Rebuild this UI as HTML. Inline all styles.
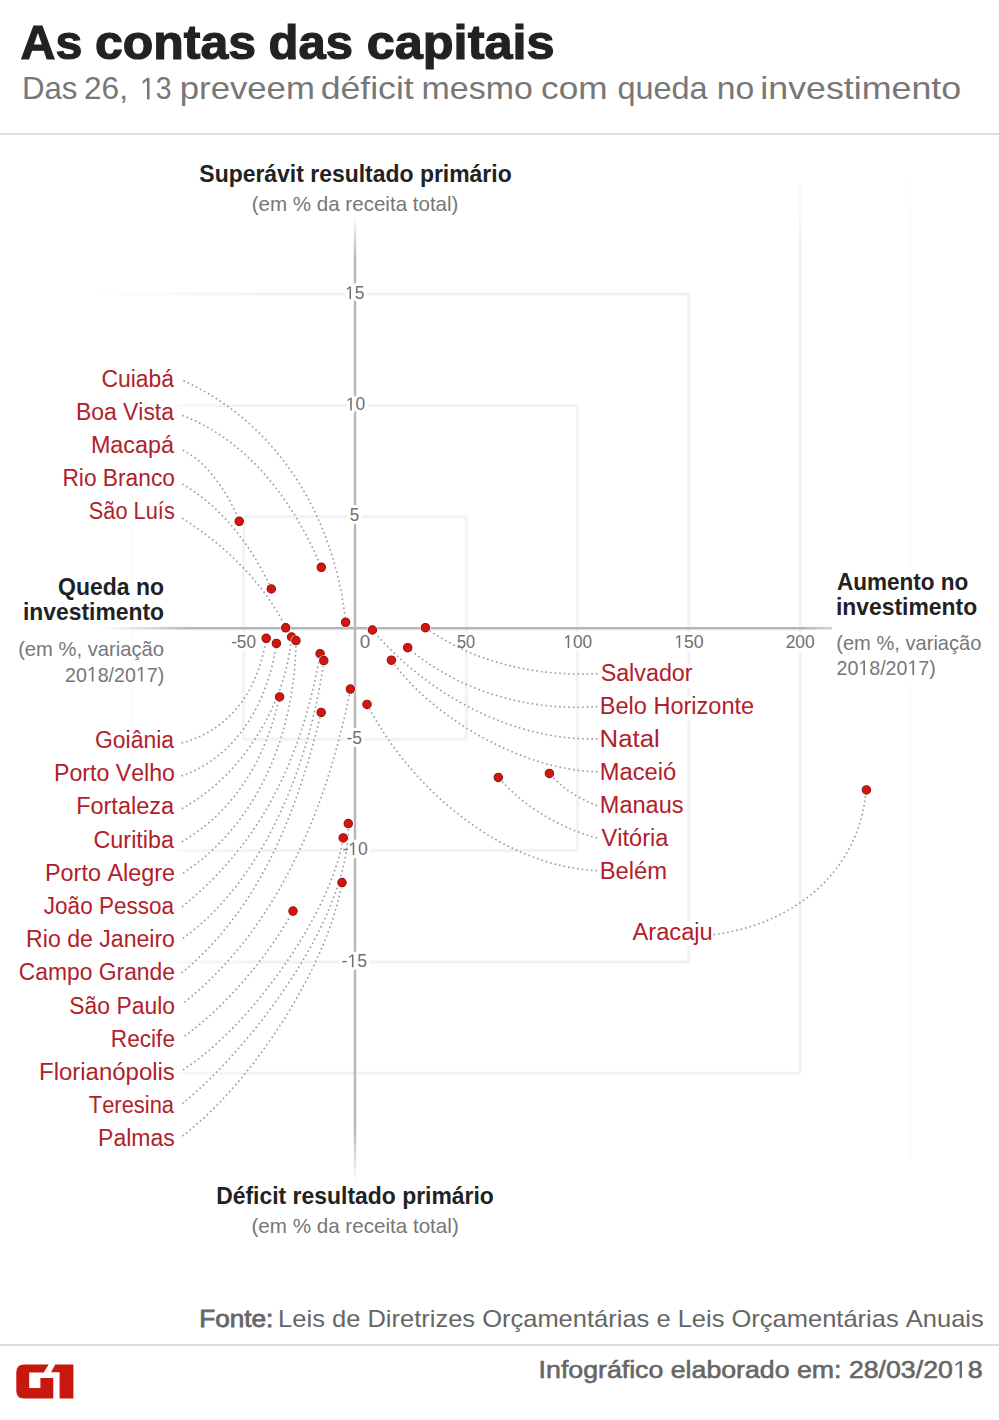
<!DOCTYPE html>
<html><head><meta charset="utf-8"><style>
html,body{margin:0;padding:0;background:#fff;}
svg{display:block;font-family:"Liberation Sans",sans-serif;font-kerning:none;}
text{font-kerning:none;}
</style></head><body>
<svg width="999" height="1420" viewBox="0 0 999 1420">
<defs>
<linearGradient id="gh" gradientUnits="userSpaceOnUse" x1="100" y1="0" x2="870" y2="0">
<stop offset="0" stop-color="#b6b6b6" stop-opacity="0"/><stop offset="0.12" stop-color="#b6b6b6" stop-opacity="1"/>
<stop offset="0.915" stop-color="#b6b6b6" stop-opacity="1"/><stop offset="1" stop-color="#b6b6b6" stop-opacity="0"/></linearGradient>
<linearGradient id="gv" gradientUnits="userSpaceOnUse" x1="0" y1="215" x2="0" y2="1182">
<stop offset="0" stop-color="#b6b6b6" stop-opacity="0"/><stop offset="0.045" stop-color="#b6b6b6" stop-opacity="1"/>
<stop offset="0.945" stop-color="#b6b6b6" stop-opacity="1"/><stop offset="1" stop-color="#b6b6b6" stop-opacity="0"/></linearGradient>
<linearGradient id="gm" gradientUnits="userSpaceOnUse" x1="90" y1="0" x2="260" y2="0">
<stop offset="0" stop-color="#000"/><stop offset="1" stop-color="#fff"/></linearGradient>
<mask id="mk" maskUnits="userSpaceOnUse" x="0" y="0" width="999" height="1420"><rect x="0" y="0" width="999" height="1420" fill="url(#gm)"/></mask>
<linearGradient id="gm2" gradientUnits="userSpaceOnUse" x1="0" y1="160" x2="0" y2="1200">
<stop offset="0" stop-color="#000"/><stop offset="0.085" stop-color="#fff"/><stop offset="0.94" stop-color="#fff"/><stop offset="1" stop-color="#000"/></linearGradient>
<mask id="mk2" maskUnits="userSpaceOnUse" x="0" y="0" width="999" height="1420"><rect x="0" y="0" width="999" height="1420" fill="url(#gm2)"/></mask>
</defs>
<rect width="999" height="1420" fill="#fff"/>
<text x="20.60" y="59.40" font-size="48.60" font-weight="bold" fill="#222" textLength="61.68" lengthAdjust="spacingAndGlyphs" stroke="#222" stroke-width="1.2">As</text><text x="94.95" y="59.40" font-size="48.60" font-weight="bold" fill="#222" textLength="161.10" lengthAdjust="spacingAndGlyphs" stroke="#222" stroke-width="1.2">contas</text><text x="268.59" y="59.40" font-size="48.60" font-weight="bold" fill="#222" textLength="84.42" lengthAdjust="spacingAndGlyphs" stroke="#222" stroke-width="1.2">das</text><text x="366.73" y="59.40" font-size="48.60" font-weight="bold" fill="#222" textLength="187.84" lengthAdjust="spacingAndGlyphs" stroke="#222" stroke-width="1.2">capitais</text><text x="21.94" y="99.40" font-size="31.40" font-weight="normal" fill="#777" textLength="55.49" lengthAdjust="spacingAndGlyphs">Das</text><text x="84.01" y="99.40" font-size="31.40" font-weight="normal" fill="#777" textLength="43.93" lengthAdjust="spacingAndGlyphs">26,</text><text x="139.87" y="99.40" font-size="31.40" font-weight="normal" fill="#777" textLength="31.58" lengthAdjust="spacingAndGlyphs"> 3</text><path fill="#777" transform="translate(139.87,99.40) scale(0.01386,-0.01533)" d="M515,0L515,1237L197,1010L197,1180L530,1409L696,1409L696,0Z"/><text x="179.76" y="99.40" font-size="31.40" font-weight="normal" fill="#777" textLength="135.13" lengthAdjust="spacingAndGlyphs">preveem</text><text x="320.70" y="99.40" font-size="31.40" font-weight="normal" fill="#777" textLength="93.06" lengthAdjust="spacingAndGlyphs">déficit</text><text x="421.55" y="99.40" font-size="31.40" font-weight="normal" fill="#777" textLength="111.28" lengthAdjust="spacingAndGlyphs">mesmo</text><text x="541.11" y="99.40" font-size="31.40" font-weight="normal" fill="#777" textLength="66.41" lengthAdjust="spacingAndGlyphs">com</text><text x="617.44" y="99.40" font-size="31.40" font-weight="normal" fill="#777" textLength="90.16" lengthAdjust="spacingAndGlyphs">queda</text><text x="716.66" y="99.40" font-size="31.40" font-weight="normal" fill="#777" textLength="37.45" lengthAdjust="spacingAndGlyphs">no</text><text x="760.31" y="99.40" font-size="31.40" font-weight="normal" fill="#777" textLength="200.90" lengthAdjust="spacingAndGlyphs">investimento</text>
<rect x="0" y="133" width="999" height="2" fill="#dedede"/>
<g mask="url(#mk)"><g mask="url(#mk2)"><path d="M243.7,516.7H466.3M466.3,516.7V739.3M243.7,739.3H466.3M243.7,516.7V739.3" stroke="#f2f2f2" stroke-width="3" fill="none"/><path d="M132.4,405.4H577.6M577.6,405.4V850.6M132.4,850.6H577.6M132.4,405.4V850.6" stroke="#f2f2f2" stroke-width="3" fill="none"/><path d="M21.1,294.1H688.9M688.9,294.1V961.9M21.1,961.9H688.9M21.1,294.1V961.9" stroke="#f2f2f2" stroke-width="3" fill="none"/><path d="M800.2,182.8V1073.2M-90.2,1073.2H800.2" stroke="#f2f2f2" stroke-width="3" fill="none"/><path d="M910,175V1160" stroke="#fafafa" stroke-width="2.5" fill="none"/></g></g>
<path d="M100,628.2H870" stroke="url(#gh)" stroke-width="2.4" fill="none"/>
<path d="M355,215V1182" stroke="url(#gv)" stroke-width="2.4" fill="none"/>
<rect x="99.6" y="368.7" width="77.4" height="24.7" fill="#fff"/><rect x="74.8" y="401.8" width="102.2" height="24.7" fill="#fff"/><rect x="89.8" y="434.9" width="87.2" height="24.7" fill="#fff"/><rect x="61.3" y="468.0" width="115.7" height="24.7" fill="#fff"/><rect x="86.8" y="501.1" width="90.2" height="24.7" fill="#fff"/><rect x="93.1" y="729.6" width="83.9" height="24.7" fill="#fff"/><rect x="52.9" y="762.8" width="124.1" height="24.7" fill="#fff"/><rect x="75.1" y="796.0" width="101.9" height="24.7" fill="#fff"/><rect x="91.7" y="829.2" width="85.3" height="24.7" fill="#fff"/><rect x="43.9" y="862.4" width="133.1" height="24.7" fill="#fff"/><rect x="41.2" y="895.6" width="135.8" height="24.7" fill="#fff"/><rect x="25.0" y="928.8" width="152.0" height="24.7" fill="#fff"/><rect x="16.9" y="962.0" width="160.1" height="24.7" fill="#fff"/><rect x="67.4" y="995.2" width="109.6" height="24.7" fill="#fff"/><rect x="109.7" y="1028.4" width="67.3" height="24.7" fill="#fff"/><rect x="38.0" y="1061.6" width="139.0" height="24.7" fill="#fff"/><rect x="86.3" y="1094.8" width="90.7" height="24.7" fill="#fff"/><rect x="97.0" y="1128.0" width="80.0" height="24.7" fill="#fff"/><rect x="598.7" y="663.1" width="96.5" height="24.7" fill="#fff"/><rect x="598.7" y="696.1" width="157.4" height="24.7" fill="#fff"/><rect x="598.7" y="729.1" width="62.3" height="24.7" fill="#fff"/><rect x="598.7" y="762.1" width="79.4" height="24.7" fill="#fff"/><rect x="598.7" y="795.1" width="87.0" height="24.7" fill="#fff"/><rect x="598.7" y="828.1" width="72.7" height="24.7" fill="#fff"/><rect x="598.7" y="861.1" width="69.9" height="24.7" fill="#fff"/><rect x="629.6" y="921.3" width="84.5" height="24.7" fill="#fff"/><rect x="832" y="566" width="154" height="120" fill="#fff"/>
<text x="345.14" y="299.20" font-size="18.40" font-weight="normal" fill="#fff" stroke="#fff" stroke-width="6" stroke-linejoin="round" textLength="19.18" lengthAdjust="spacingAndGlyphs"> 5</text><path fill="#fff" stroke="#fff" stroke-width="6" stroke-linejoin="round" vector-effect="non-scaling-stroke" transform="translate(345.14,299.20) scale(0.00842,-0.00898)" d="M515,0L515,1237L197,1010L197,1180L530,1409L696,1409L696,0Z"/><text x="345.82" y="410.40" font-size="18.40" font-weight="normal" fill="#fff" stroke="#fff" stroke-width="6" stroke-linejoin="round" textLength="19.47" lengthAdjust="spacingAndGlyphs"> 0</text><path fill="#fff" stroke="#fff" stroke-width="6" stroke-linejoin="round" vector-effect="non-scaling-stroke" transform="translate(345.82,410.40) scale(0.00855,-0.00898)" d="M515,0L515,1237L197,1010L197,1180L530,1409L696,1409L696,0Z"/><text x="349.72" y="521.30" font-size="18.40" font-weight="normal" fill="#fff" stroke="#fff" stroke-width="6" stroke-linejoin="round" textLength="9.50" lengthAdjust="spacingAndGlyphs">5</text><text x="346.43" y="744.40" font-size="18.40" font-weight="normal" fill="#fff" stroke="#fff" stroke-width="6" stroke-linejoin="round" textLength="15.51" lengthAdjust="spacingAndGlyphs">-5</text><text x="342.42" y="855.20" font-size="18.40" font-weight="normal" fill="#fff" stroke="#fff" stroke-width="6" stroke-linejoin="round" textLength="25.47" lengthAdjust="spacingAndGlyphs">- 0</text><path fill="#fff" stroke="#fff" stroke-width="6" stroke-linejoin="round" vector-effect="non-scaling-stroke" transform="translate(348.29,855.20) scale(0.00861,-0.00898)" d="M515,0L515,1237L197,1010L197,1180L530,1409L696,1409L696,0Z"/><text x="341.62" y="967.20" font-size="18.40" font-weight="normal" fill="#fff" stroke="#fff" stroke-width="6" stroke-linejoin="round" textLength="25.53" lengthAdjust="spacingAndGlyphs">- 5</text><path fill="#fff" stroke="#fff" stroke-width="6" stroke-linejoin="round" vector-effect="non-scaling-stroke" transform="translate(347.50,967.20) scale(0.00862,-0.00898)" d="M515,0L515,1237L197,1010L197,1180L530,1409L696,1409L696,0Z"/><text x="231.14" y="647.80" font-size="18.40" font-weight="normal" fill="#fff" stroke="#fff" stroke-width="6" stroke-linejoin="round" textLength="24.83" lengthAdjust="spacingAndGlyphs">-50</text><text x="359.76" y="648.00" font-size="18.40" font-weight="normal" fill="#fff" stroke="#fff" stroke-width="6" stroke-linejoin="round" textLength="10.47" lengthAdjust="spacingAndGlyphs">0</text><text x="456.95" y="648.00" font-size="18.40" font-weight="normal" fill="#fff" stroke="#fff" stroke-width="6" stroke-linejoin="round" textLength="18.19" lengthAdjust="spacingAndGlyphs">50</text><text x="563.34" y="648.00" font-size="18.40" font-weight="normal" fill="#fff" stroke="#fff" stroke-width="6" stroke-linejoin="round" textLength="28.73" lengthAdjust="spacingAndGlyphs"> 00</text><path fill="#fff" stroke="#fff" stroke-width="6" stroke-linejoin="round" vector-effect="non-scaling-stroke" transform="translate(563.34,648.00) scale(0.00841,-0.00898)" d="M515,0L515,1237L197,1010L197,1180L530,1409L696,1409L696,0Z"/><text x="674.21" y="647.80" font-size="18.40" font-weight="normal" fill="#fff" stroke="#fff" stroke-width="6" stroke-linejoin="round" textLength="29.38" lengthAdjust="spacingAndGlyphs"> 50</text><path fill="#fff" stroke="#fff" stroke-width="6" stroke-linejoin="round" vector-effect="non-scaling-stroke" transform="translate(674.21,647.80) scale(0.00860,-0.00898)" d="M515,0L515,1237L197,1010L197,1180L530,1409L696,1409L696,0Z"/><text x="785.73" y="647.70" font-size="18.40" font-weight="normal" fill="#fff" stroke="#fff" stroke-width="6" stroke-linejoin="round" textLength="28.95" lengthAdjust="spacingAndGlyphs">200</text><text x="345.14" y="299.20" font-size="18.40" font-weight="normal" fill="#707070" textLength="19.18" lengthAdjust="spacingAndGlyphs"> 5</text><path fill="#707070" transform="translate(345.14,299.20) scale(0.00842,-0.00898)" d="M515,0L515,1237L197,1010L197,1180L530,1409L696,1409L696,0Z"/><text x="345.82" y="410.40" font-size="18.40" font-weight="normal" fill="#707070" textLength="19.47" lengthAdjust="spacingAndGlyphs"> 0</text><path fill="#707070" transform="translate(345.82,410.40) scale(0.00855,-0.00898)" d="M515,0L515,1237L197,1010L197,1180L530,1409L696,1409L696,0Z"/><text x="349.72" y="521.30" font-size="18.40" font-weight="normal" fill="#707070" textLength="9.50" lengthAdjust="spacingAndGlyphs">5</text><text x="346.43" y="744.40" font-size="18.40" font-weight="normal" fill="#707070" textLength="15.51" lengthAdjust="spacingAndGlyphs">-5</text><text x="342.42" y="855.20" font-size="18.40" font-weight="normal" fill="#707070" textLength="25.47" lengthAdjust="spacingAndGlyphs">- 0</text><path fill="#707070" transform="translate(348.29,855.20) scale(0.00861,-0.00898)" d="M515,0L515,1237L197,1010L197,1180L530,1409L696,1409L696,0Z"/><text x="341.62" y="967.20" font-size="18.40" font-weight="normal" fill="#707070" textLength="25.53" lengthAdjust="spacingAndGlyphs">- 5</text><path fill="#707070" transform="translate(347.50,967.20) scale(0.00862,-0.00898)" d="M515,0L515,1237L197,1010L197,1180L530,1409L696,1409L696,0Z"/><text x="231.14" y="647.80" font-size="18.40" font-weight="normal" fill="#707070" textLength="24.83" lengthAdjust="spacingAndGlyphs">-50</text><text x="359.76" y="648.00" font-size="18.40" font-weight="normal" fill="#707070" textLength="10.47" lengthAdjust="spacingAndGlyphs">0</text><text x="456.95" y="648.00" font-size="18.40" font-weight="normal" fill="#707070" textLength="18.19" lengthAdjust="spacingAndGlyphs">50</text><text x="563.34" y="648.00" font-size="18.40" font-weight="normal" fill="#707070" textLength="28.73" lengthAdjust="spacingAndGlyphs"> 00</text><path fill="#707070" transform="translate(563.34,648.00) scale(0.00841,-0.00898)" d="M515,0L515,1237L197,1010L197,1180L530,1409L696,1409L696,0Z"/><text x="674.21" y="647.80" font-size="18.40" font-weight="normal" fill="#707070" textLength="29.38" lengthAdjust="spacingAndGlyphs"> 50</text><path fill="#707070" transform="translate(674.21,647.80) scale(0.00860,-0.00898)" d="M515,0L515,1237L197,1010L197,1180L530,1409L696,1409L696,0Z"/><text x="785.73" y="647.70" font-size="18.40" font-weight="normal" fill="#707070" textLength="28.95" lengthAdjust="spacingAndGlyphs">200</text>
<g fill="none" stroke="#999" stroke-width="1.6" stroke-dasharray="1.6 3.0"><path d="M183.4,380.6C279.6,424.7 334.8,518.8 345.6,622.0"/><path d="M182.2,415.4C249.2,440.7 294.6,503.4 321.4,567.4"/><path d="M182.8,450.3C207.5,461.8 230.3,496.4 239.2,521.4"/><path d="M182.2,483.9C222.8,507.5 251.9,546.8 271.3,588.8"/><path d="M182.1,518.2C225.1,545.5 262.9,581.7 285.9,627.7"/><path d="M597.5,673.6C537.1,676.7 475.0,663.2 425.4,627.7"/><path d="M597.5,706.6C529.6,711.4 459.9,692.1 407.7,647.7"/><path d="M597.5,738.8C512.7,741.4 426.2,693.7 372.5,630.0"/><path d="M597.5,771.7C525.2,770.7 433.3,719.3 391.4,660.2"/><path d="M597.0,805.7C579.1,798.6 561.8,788.4 549.5,773.3"/><path d="M597.0,838.1C559.6,827.5 523.9,807.2 498.5,777.4"/><path d="M597.0,870.6C500.3,866.1 410.0,787.6 367.2,704.3"/><path d="M713.5,934.6C792.3,924.7 859.4,872.9 866.1,789.9"/><path d="M181.5,743.0C232.3,729.5 258.8,687.9 266.2,638.3"/><path d="M181.5,775.9C238.1,756.6 268.5,699.7 276.5,643.5"/><path d="M181.8,808.7C242.4,775.2 285.3,705.4 291.6,637.0"/><path d="M181.8,841.7C236.7,809.8 266.1,756.5 279.5,697.0"/><path d="M183.0,873.2C260.3,822.1 295.0,730.4 296.0,640.8"/><path d="M182.0,906.8C264.0,840.6 302.2,755.1 320.2,653.7"/><path d="M182.9,938.4C266.0,878.3 310.5,759.9 323.9,660.6"/><path d="M181.5,973.0C260.9,908.2 298.1,808.8 321.2,712.4"/><path d="M184.5,1002.3C279.4,926.1 327.4,805.7 350.5,689.1"/><path d="M184.5,1036.1C225.9,1006.4 268.0,956.5 293.0,911.1"/><path d="M183.0,1069.9C249.2,1027.2 330.6,915.4 343.3,837.8"/><path d="M182.3,1103.7C252.2,1046.5 350.5,917.4 348.4,823.5"/><path d="M182.3,1136.0C251.2,1084.2 327.3,967.4 342.1,882.6"/></g>
<g fill="#d2150f" stroke="#95110e" stroke-width="1.1"><circle cx="345.6" cy="622.3" r="5.4" fill="#fff" stroke="none" opacity="0.9"/><circle cx="345.6" cy="622.3" r="4.2"/><circle cx="321.3" cy="567.3" r="5.4" fill="#fff" stroke="none" opacity="0.9"/><circle cx="321.3" cy="567.3" r="4.2"/><circle cx="239.2" cy="521.3" r="5.4" fill="#fff" stroke="none" opacity="0.9"/><circle cx="239.2" cy="521.3" r="4.2"/><circle cx="271.3" cy="588.9" r="5.4" fill="#fff" stroke="none" opacity="0.9"/><circle cx="271.3" cy="588.9" r="4.2"/><circle cx="285.7" cy="627.8" r="5.4" fill="#fff" stroke="none" opacity="0.9"/><circle cx="285.7" cy="627.8" r="4.2"/><circle cx="425.4" cy="627.7" r="5.4" fill="#fff" stroke="none" opacity="0.9"/><circle cx="425.4" cy="627.7" r="4.2"/><circle cx="407.7" cy="647.7" r="5.4" fill="#fff" stroke="none" opacity="0.9"/><circle cx="407.7" cy="647.7" r="4.2"/><circle cx="372.4" cy="630.0" r="5.4" fill="#fff" stroke="none" opacity="0.9"/><circle cx="372.4" cy="630.0" r="4.2"/><circle cx="391.4" cy="660.2" r="5.4" fill="#fff" stroke="none" opacity="0.9"/><circle cx="391.4" cy="660.2" r="4.2"/><circle cx="549.4" cy="773.4" r="5.4" fill="#fff" stroke="none" opacity="0.9"/><circle cx="549.4" cy="773.4" r="4.2"/><circle cx="498.3" cy="777.4" r="5.4" fill="#fff" stroke="none" opacity="0.9"/><circle cx="498.3" cy="777.4" r="4.2"/><circle cx="367.0" cy="704.4" r="5.4" fill="#fff" stroke="none" opacity="0.9"/><circle cx="367.0" cy="704.4" r="4.2"/><circle cx="866.4" cy="789.9" r="5.4" fill="#fff" stroke="none" opacity="0.9"/><circle cx="866.4" cy="789.9" r="4.2"/><circle cx="266.2" cy="638.3" r="5.4" fill="#fff" stroke="none" opacity="0.9"/><circle cx="266.2" cy="638.3" r="4.2"/><circle cx="276.4" cy="643.4" r="5.4" fill="#fff" stroke="none" opacity="0.9"/><circle cx="276.4" cy="643.4" r="4.2"/><circle cx="291.6" cy="637.0" r="5.4" fill="#fff" stroke="none" opacity="0.9"/><circle cx="291.6" cy="637.0" r="4.2"/><circle cx="279.6" cy="696.9" r="5.4" fill="#fff" stroke="none" opacity="0.9"/><circle cx="279.6" cy="696.9" r="4.2"/><circle cx="296.0" cy="640.6" r="5.4" fill="#fff" stroke="none" opacity="0.9"/><circle cx="296.0" cy="640.6" r="4.2"/><circle cx="320.1" cy="653.7" r="5.4" fill="#fff" stroke="none" opacity="0.9"/><circle cx="320.1" cy="653.7" r="4.2"/><circle cx="323.8" cy="660.6" r="5.4" fill="#fff" stroke="none" opacity="0.9"/><circle cx="323.8" cy="660.6" r="4.2"/><circle cx="321.2" cy="712.4" r="5.4" fill="#fff" stroke="none" opacity="0.9"/><circle cx="321.2" cy="712.4" r="4.2"/><circle cx="350.4" cy="689.1" r="5.4" fill="#fff" stroke="none" opacity="0.9"/><circle cx="350.4" cy="689.1" r="4.2"/><circle cx="293.0" cy="911.1" r="5.4" fill="#fff" stroke="none" opacity="0.9"/><circle cx="293.0" cy="911.1" r="4.2"/><circle cx="343.2" cy="837.9" r="5.4" fill="#fff" stroke="none" opacity="0.9"/><circle cx="343.2" cy="837.9" r="4.2"/><circle cx="348.3" cy="823.6" r="5.4" fill="#fff" stroke="none" opacity="0.9"/><circle cx="348.3" cy="823.6" r="4.2"/><circle cx="342.0" cy="882.6" r="5.4" fill="#fff" stroke="none" opacity="0.9"/><circle cx="342.0" cy="882.6" r="4.2"/></g>
<text x="199.34" y="182.20" font-size="24.10" font-weight="bold" fill="#222" textLength="312.36" lengthAdjust="spacingAndGlyphs">Superávit resultado primário</text><text x="251.73" y="211.20" font-size="21.00" font-weight="normal" fill="#777" textLength="206.75" lengthAdjust="spacingAndGlyphs">(em % da receita total)</text><text x="216.17" y="1204.20" font-size="24.10" font-weight="bold" fill="#222" textLength="277.73" lengthAdjust="spacingAndGlyphs">Déficit resultado primário</text><text x="251.42" y="1233.00" font-size="21.00" font-weight="normal" fill="#777" textLength="207.36" lengthAdjust="spacingAndGlyphs">(em % da receita total)</text><text x="58.06" y="595.00" font-size="24.10" font-weight="bold" fill="#222" textLength="105.94" lengthAdjust="spacingAndGlyphs">Queda no</text><text x="23.00" y="619.80" font-size="24.10" font-weight="bold" fill="#222" textLength="140.99" lengthAdjust="spacingAndGlyphs">investimento</text><text x="18.15" y="656.00" font-size="21.00" font-weight="normal" fill="#777" textLength="145.90" lengthAdjust="spacingAndGlyphs">(em %, variação</text><text x="65.01" y="681.50" font-size="21.00" font-weight="normal" fill="#777" textLength="99.20" lengthAdjust="spacingAndGlyphs">20 8/20 7)</text><path fill="#777" transform="translate(86.82,681.50) scale(0.00957,-0.01025)" d="M515,0L515,1237L197,1010L197,1180L530,1409L696,1409L696,0Z"/><path fill="#777" transform="translate(135.88,681.50) scale(0.00957,-0.01025)" d="M515,0L515,1237L197,1010L197,1180L530,1409L696,1409L696,0Z"/><text x="836.94" y="589.60" font-size="24.10" font-weight="bold" fill="#222" textLength="131.44" lengthAdjust="spacingAndGlyphs">Aumento no</text><text x="835.90" y="614.80" font-size="24.10" font-weight="bold" fill="#222" textLength="141.29" lengthAdjust="spacingAndGlyphs">investimento</text><text x="836.25" y="650.00" font-size="21.00" font-weight="normal" fill="#777" textLength="145.19" lengthAdjust="spacingAndGlyphs">(em %, variação</text><text x="836.51" y="675.00" font-size="21.00" font-weight="normal" fill="#777" textLength="99.30" lengthAdjust="spacingAndGlyphs">20 8/20 7)</text><path fill="#777" transform="translate(858.34,675.00) scale(0.00958,-0.01025)" d="M515,0L515,1237L197,1010L197,1180L530,1409L696,1409L696,0Z"/><path fill="#777" transform="translate(907.45,675.00) scale(0.00958,-0.01025)" d="M515,0L515,1237L197,1010L197,1180L530,1409L696,1409L696,0Z"/><text x="199.26" y="1327.20" font-size="24.00" font-weight="normal" fill="#666" textLength="74.03" lengthAdjust="spacingAndGlyphs" stroke="#666" stroke-width="0.8">Fonte:</text><text x="278.11" y="1327.20" font-size="24.00" font-weight="normal" fill="#666" textLength="705.61" lengthAdjust="spacingAndGlyphs">Leis de Diretrizes Orçamentárias e Leis Orçamentárias Anuais</text><text x="538.64" y="1378.00" font-size="24.40" font-weight="normal" fill="#666" textLength="443.93" lengthAdjust="spacingAndGlyphs" stroke="#666" stroke-width="0.6">Infográfico elaborado em: 28/03/20 8</text><path fill="#666" transform="translate(952.86,1378.00) scale(0.01304,-0.01191)" d="M515,0L515,1237L197,1010L197,1180L530,1409L696,1409L696,0Z"/>
<text x="101.44" y="387.00" font-size="23.50" font-weight="normal" fill="#b0212a" textLength="72.56" lengthAdjust="spacingAndGlyphs">Cuiabá</text><text x="75.92" y="420.10" font-size="23.50" font-weight="normal" fill="#b0212a" textLength="98.08" lengthAdjust="spacingAndGlyphs">Boa Vista</text><text x="90.88" y="453.20" font-size="23.50" font-weight="normal" fill="#b0212a" textLength="83.12" lengthAdjust="spacingAndGlyphs">Macapá</text><text x="62.43" y="486.30" font-size="23.50" font-weight="normal" fill="#b0212a" textLength="112.52" lengthAdjust="spacingAndGlyphs">Rio Branco</text><text x="88.81" y="519.40" font-size="23.50" font-weight="normal" fill="#b0212a" textLength="85.98" lengthAdjust="spacingAndGlyphs">São Luís</text><text x="94.95" y="747.90" font-size="23.50" font-weight="normal" fill="#b0212a" textLength="79.05" lengthAdjust="spacingAndGlyphs">Goiânia</text><text x="54.00" y="781.10" font-size="23.50" font-weight="normal" fill="#b0212a" textLength="120.97" lengthAdjust="spacingAndGlyphs">Porto Velho</text><text x="76.17" y="814.30" font-size="23.50" font-weight="normal" fill="#b0212a" textLength="97.83" lengthAdjust="spacingAndGlyphs">Fortaleza</text><text x="93.51" y="847.50" font-size="23.50" font-weight="normal" fill="#b0212a" textLength="80.49" lengthAdjust="spacingAndGlyphs">Curitiba</text><text x="44.98" y="880.70" font-size="23.50" font-weight="normal" fill="#b0212a" textLength="130.06" lengthAdjust="spacingAndGlyphs">Porto Alegre</text><text x="43.85" y="913.90" font-size="23.50" font-weight="normal" fill="#b0212a" textLength="130.15" lengthAdjust="spacingAndGlyphs">João Pessoa</text><text x="26.11" y="947.10" font-size="23.50" font-weight="normal" fill="#b0212a" textLength="148.86" lengthAdjust="spacingAndGlyphs">Rio de Janeiro</text><text x="18.74" y="980.30" font-size="23.50" font-weight="normal" fill="#b0212a" textLength="156.28" lengthAdjust="spacingAndGlyphs">Campo Grande</text><text x="69.36" y="1013.50" font-size="23.50" font-weight="normal" fill="#b0212a" textLength="105.60" lengthAdjust="spacingAndGlyphs">São Paulo</text><text x="110.84" y="1046.70" font-size="23.50" font-weight="normal" fill="#b0212a" textLength="64.16" lengthAdjust="spacingAndGlyphs">Recife</text><text x="39.03" y="1079.90" font-size="23.50" font-weight="normal" fill="#b0212a" textLength="135.83" lengthAdjust="spacingAndGlyphs">Florianópolis</text><text x="88.81" y="1113.10" font-size="23.50" font-weight="normal" fill="#b0212a" textLength="85.19" lengthAdjust="spacingAndGlyphs">Teresina</text><text x="98.11" y="1146.30" font-size="23.50" font-weight="normal" fill="#b0212a" textLength="76.72" lengthAdjust="spacingAndGlyphs">Palmas</text><text x="600.64" y="681.40" font-size="23.50" font-weight="normal" fill="#b0212a" textLength="91.94" lengthAdjust="spacingAndGlyphs">Salvador</text><text x="599.77" y="714.40" font-size="23.50" font-weight="normal" fill="#b0212a" textLength="154.38" lengthAdjust="spacingAndGlyphs">Belo Horizonte</text><text x="599.59" y="747.40" font-size="23.50" font-weight="normal" fill="#b0212a" textLength="60.14" lengthAdjust="spacingAndGlyphs">Natal</text><text x="599.76" y="780.40" font-size="23.50" font-weight="normal" fill="#b0212a" textLength="76.34" lengthAdjust="spacingAndGlyphs">Maceió</text><text x="599.77" y="813.40" font-size="23.50" font-weight="normal" fill="#b0212a" textLength="83.78" lengthAdjust="spacingAndGlyphs">Manaus</text><text x="601.60" y="846.40" font-size="23.50" font-weight="normal" fill="#b0212a" textLength="66.80" lengthAdjust="spacingAndGlyphs">Vitória</text><text x="599.75" y="879.40" font-size="23.50" font-weight="normal" fill="#b0212a" textLength="67.42" lengthAdjust="spacingAndGlyphs">Belém</text><text x="632.55" y="939.60" font-size="23.50" font-weight="normal" fill="#b0212a" textLength="80.12" lengthAdjust="spacingAndGlyphs">Aracaju</text>
<rect x="0" y="1344" width="999" height="2" fill="#dedede"/>
<path fill="#c8170f" d="M24,1364.5H48.7L43.7,1372.5H29.2V1388H40.4V1378H53.3V1398.5H24Q16.3,1398.5 16.3,1390.5V1372.5Q16.3,1364.5 24,1364.5Z"/>
<path fill="#c8170f" d="M55.3,1364.5H73.4V1398.5H59.6V1372.2H51Z"/>
</svg>
</body></html>
